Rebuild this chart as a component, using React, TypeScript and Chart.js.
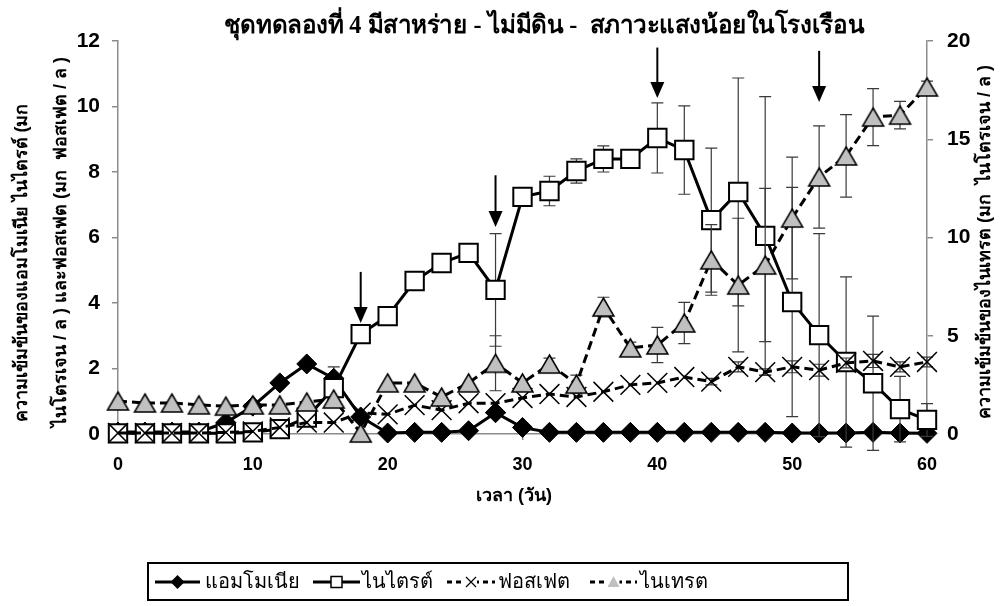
import React, { useEffect, useRef } from "react";
import { Chart, registerables } from "chart.js";

Chart.register(...registerables);

// ---- DATA ----
const days = [0, 2, 4, 6, 8, 10, 12, 14, 16, 18, 20, 22, 24, 26, 28, 30, 32, 34, 36, 38, 40, 42, 44, 46, 48, 50, 52, 54, 56, 58, 60];

const ammonia = [0.06, 0.06, 0.06, 0.06, 0.35, 0.85, 1.56, 2.14, 1.7, 0.52, 0.03, 0.05, 0.05, 0.1, 0.65, 0.2, 0.05, 0.05, 0.05, 0.05, 0.05, 0.05, 0.05, 0.05, 0.05, 0.03, 0.03, 0.03, 0.05, 0.03, 0.02];
const ammoniaErr = [0, 0, 0, 0, 0, 0, 0, 0, 0.35, 0, 0, 0, 0, 0, 0.1, 0, 0, 0, 0, 0, 0, 0, 0, 0, 0, 0, 0, 0, 0, 0, 0];

const nitrite = [0.02, 0.02, 0.02, 0.02, 0.02, 0.05, 0.15, 0.5, 1.4, 3.05, 3.6, 4.67, 5.22, 5.53, 4.4, 7.24, 7.42, 8.03, 8.4, 8.4, 9.04, 8.67, 6.53, 7.39, 6.05, 4.03, 3.02, 2.2, 1.55, 0.76, 0.43];
const nitriteErr = [0, 0, 0, 0, 0, 0, 0, 0, 0, 0, 0, 0, 0, 0, 1.72, 0, 0.45, 0.37, 0.4, 0, 1.07, 1.35, 2.2, 3.48, 4.25, 3.5, 3.1, 2.6, 2.05, 1.0, 0.5];

const phosphate = [0.03, 0.03, 0.03, 0.03, 0.05, 0.08, 0.2, 0.35, 0.35, 0.65, 0.6, 0.88, 0.73, 0.94, 0.94, 1.1, 1.22, 1.13, 1.29, 1.5, 1.56, 1.74, 1.6, 2.05, 1.89, 2.05, 1.95, 2.17, 2.23, 2.05, 2.2];
const phosphateErr = [0, 0, 0, 0, 0, 0, 0, 0, 0, 0, 0, 0, 0, 0, 0, 0, 0, 0, 0, 0, 0, 0, 0.1, 0.15, 0.1, 0.18, 0.18, 0.15, 0.2, 0.15, 0.15];

const nitrate = [1.68, 1.58, 1.58, 1.48, 1.42, 1.48, 1.48, 1.63, 1.78, 0.05, 2.6, 2.6, 1.88, 2.6, 3.6, 2.6, 3.56, 2.54, 6.46, 4.38, 4.53, 5.65, 8.86, 7.58, 8.6, 10.99, 13.08, 14.15, 16.13, 16.23, 17.66];
const nitrateErr = [0, 0, 0, 0, 0, 0, 0, 0, 0, 0, 0, 0, 0, 0, 1.4, 0, 0.3, 0.46, 0.5, 0.3, 0.9, 1.05, 1.8, 3.4, 3.9, 3.1, 2.6, 2.1, 1.45, 0.7, 0.3];

// arrows marking events (day, top and tip in left-axis units)
const arrowDays = [18, 28, 40, 52];
const arrowTops = [4.95, 7.9, 11.8, 11.7];
const arrowTips = [3.39, 6.32, 10.26, 10.14];

const seriesNames = ["แอมโมเนีย", "ไนไตรต์", "ฟอสเฟต", "ไนเทรต"];
const titleText = "ชุดทดลองที่ 4 มีสาหร่าย - ไม่มีดิน -  สภาวะแสงน้อยในโรงเรือน";
const xTitle = "เวลา (วัน)";
const yTitleLines = ["ความเข้มข้นของแอมโมเนีย ไนไตรต์ (มก", "ไนโตรเจน / ล ) และฟอสเฟต (มก  ฟอสเฟต / ล )"];
const y2Title = "ความเข้มข้นของไนเทรต (มก  ไนโตรเจน / ล )";

const SANS = "'Liberation Sans', Arial, 'Noto Sans', sans-serif";
const SERIF = "'Liberation Serif', 'DejaVu Serif', serif";
const GRAY_FILL = "#c0c0c0";
const AXIS_GRAY = "#8c8c8c";

function makeTriangle(w: number, h: number, lw: number): HTMLCanvasElement {
  const c = document.createElement("canvas");
  c.width = w + 4;
  c.height = h + 4;
  const g = c.getContext("2d")!;
  g.beginPath();
  g.moveTo(c.width / 2, 2);
  g.lineTo(c.width - 2, h + 2);
  g.lineTo(2, h + 2);
  g.closePath();
  g.fillStyle = GRAY_FILL;
  g.fill();
  g.lineWidth = lw;
  g.strokeStyle = "#000";
  g.lineJoin = "miter";
  g.stroke();
  return c;
}

const errorSets = [ammoniaErr, nitriteErr, phosphateErr, nitrateErr];
const valueSets = [ammonia, nitrite, phosphate, nitrate];
const axisSets = ["y", "y", "y", "y2"];

const errorBarPlugin = {
  id: "errorBars",
  beforeDatasetDraw(chart: any, args: any) {
    const i = args.index;
    const errs = errorSets[i];
    const vals = valueSets[i];
    if (!errs) return;
    const ctx = chart.ctx;
    const xs = chart.scales.x;
    const ys = chart.scales[axisSets[i]];
    ctx.save();
    ctx.strokeStyle = "#3a3a3a";
    ctx.lineWidth = 1.2;
    for (let k = 0; k < days.length; k++) {
      const e = errs[k];
      if (!e) continue;
      const x = xs.getPixelForValue(days[k]);
      const yt = ys.getPixelForValue(vals[k] + e);
      const yb = ys.getPixelForValue(vals[k] - e);
      ctx.beginPath();
      ctx.moveTo(x, yt);
      ctx.lineTo(x, yb);
      ctx.moveTo(x - 6, yt);
      ctx.lineTo(x + 6, yt);
      ctx.moveTo(x - 6, yb);
      ctx.lineTo(x + 6, yb);
      ctx.stroke();
    }
    ctx.restore();
  },
};

const decorPlugin = {
  id: "decor",
  afterDraw(chart: any) {
    const ctx = chart.ctx as CanvasRenderingContext2D;
    const xs = chart.scales.x;
    const ys = chart.scales.y;
    ctx.save();
    // arrows
    ctx.fillStyle = "#000";
    ctx.strokeStyle = "#000";
    for (let i = 0; i < arrowDays.length; i++) {
      const x = xs.getPixelForValue(arrowDays[i]);
      const yTop = ys.getPixelForValue(arrowTops[i]);
      const yTip = ys.getPixelForValue(arrowTips[i]);
      ctx.lineWidth = 2;
      ctx.beginPath();
      ctx.moveTo(x, yTop);
      ctx.lineTo(x, yTip - 12);
      ctx.stroke();
      ctx.beginPath();
      ctx.moveTo(x - 7, yTip - 16);
      ctx.lineTo(x + 7, yTip - 16);
      ctx.lineTo(x, yTip);
      ctx.closePath();
      ctx.fill();
    }

    // title
    ctx.fillStyle = "#000";
    ctx.textAlign = "center";
    ctx.textBaseline = "middle";
    ctx.font = `bold 25px ${SERIF}`;
    ctx.fillText(titleText, 544, 27, 640);

    // x title
    ctx.font = `bold 18px ${SANS}`;
    ctx.fillText(xTitle, 514, 496);

    // left titles
    ctx.font = `bold 18px ${SANS}`;
    ctx.save();
    ctx.translate(22, 263);
    ctx.rotate(-Math.PI / 2);
    ctx.fillText(yTitleLines[0], 0, 0, 360);
    ctx.restore();
    ctx.save();
    ctx.translate(61, 242);
    ctx.rotate(-Math.PI / 2);
    ctx.fillText(yTitleLines[1], 0, 0, 400);
    ctx.restore();
    // right title
    ctx.save();
    ctx.translate(985, 242);
    ctx.rotate(-Math.PI / 2);
    ctx.fillText(y2Title, 0, 0, 396);
    ctx.restore();

    // legend
    ctx.lineWidth = 2;
    ctx.strokeStyle = "#000";
    ctx.strokeRect(148, 563, 700, 37);
    const ly = 582;
    const items = [
      { x0: 155, x1: 200, dash: [] as number[], label: 205 },
      { x0: 313, x1: 360, dash: [] as number[], label: 362 },
      { x0: 447, x1: 495, dash: [5, 4], label: 498 },
      { x0: 590, x1: 637, dash: [5, 4], label: 640 },
    ];
    items.forEach((it, i) => {
      ctx.save();
      ctx.lineWidth = 3;
      ctx.setLineDash(it.dash);
      ctx.beginPath();
      ctx.moveTo(it.x0, ly);
      ctx.lineTo(it.x1, ly);
      ctx.stroke();
      ctx.restore();
      const cx = (it.x0 + it.x1) / 2;
      if (i === 0) {
        ctx.beginPath();
        ctx.moveTo(cx, ly - 7);
        ctx.lineTo(cx + 7, ly);
        ctx.lineTo(cx, ly + 7);
        ctx.lineTo(cx - 7, ly);
        ctx.closePath();
        ctx.fill();
      } else if (i === 1) {
        ctx.fillStyle = "#fff";
        ctx.fillRect(cx - 5.5, ly - 5.5, 11, 11);
        ctx.lineWidth = 1.5;
        ctx.strokeRect(cx - 5.5, ly - 5.5, 11, 11);
        ctx.fillStyle = "#000";
      } else if (i === 2) {
        ctx.fillStyle = "#fff";
        ctx.fillRect(cx - 6, ly - 6, 12, 12);
        ctx.fillStyle = "#000";
        ctx.lineWidth = 1.2;
        ctx.beginPath();
        ctx.moveTo(cx - 5, ly - 5);
        ctx.lineTo(cx + 5, ly + 5);
        ctx.moveTo(cx + 5, ly - 5);
        ctx.lineTo(cx - 5, ly + 5);
        ctx.stroke();
      } else {
        ctx.fillStyle = "#fff";
        ctx.fillRect(cx - 6, ly - 7, 12, 14);
        ctx.beginPath();
        ctx.moveTo(cx, ly - 6);
        ctx.lineTo(cx + 6, ly + 5);
        ctx.lineTo(cx - 6, ly + 5);
        ctx.closePath();
        ctx.fillStyle = GRAY_FILL;
        ctx.fill();
        ctx.fillStyle = "#000";
      }
      ctx.textAlign = "left";
      ctx.font = `20px ${SANS}`;
      ctx.fillText(seriesNames[i], it.label, ly);
    });
    ctx.restore();
  },
};

export default function App() {
  const ref = useRef<HTMLCanvasElement | null>(null);
  useEffect(() => {
    if (!ref.current) return;
    const tri = makeTriangle(21, 18, 1.5);
    const pts = (arr: number[]) => days.map((d, i) => ({ x: d, y: arr[i] }));
    const chart = new Chart(ref.current, {
      type: "line",
      data: {
        datasets: [
          {
            label: seriesNames[0],
            data: pts(ammonia),
            yAxisID: "y",
            borderColor: "#000",
            borderWidth: 3,
            pointStyle: "rectRot",
            pointRadius: 10,
            pointBackgroundColor: "#000",
            pointBorderColor: "#000",
            pointBorderWidth: 1,
            clip: false,
            order: 3,
          },
          {
            label: seriesNames[1],
            data: pts(nitrite),
            yAxisID: "y",
            borderColor: "#000",
            borderWidth: 3,
            pointStyle: "rect",
            pointRadius: 13,
            pointBackgroundColor: "#fff",
            pointBorderColor: "#000",
            pointBorderWidth: 2,
            clip: false,
            order: 2,
          },
          {
            label: seriesNames[2],
            data: pts(phosphate),
            yAxisID: "y",
            borderColor: "#000",
            borderWidth: 3,
            borderDash: [9, 5],
            pointStyle: "crossRot",
            pointRadius: 14,
            pointBorderColor: "#000",
            pointBorderWidth: 1.5,
            clip: false,
            order: 1,
          },
          {
            label: seriesNames[3],
            data: pts(nitrate),
            yAxisID: "y2",
            borderColor: "#000",
            borderWidth: 3,
            borderDash: [9, 5],
            pointStyle: tri as any,
            pointRadius: 11,
            clip: false,
            order: 0,
          },
        ],
      },
      options: {
        responsive: false,
        animation: false,
        events: [],
        layout: { padding: { top: 41, left: 0, right: 0, bottom: 0 } },
        plugins: { legend: { display: false }, tooltip: { enabled: false }, title: { display: false } },
        scales: {
          x: {
            type: "linear",
            min: 0,
            max: 60,
            ticks: { stepSize: 10, color: "#000", padding: 14, font: { size: 18, weight: "bold", family: SANS } },
            grid: { drawOnChartArea: false, tickLength: 6, color: AXIS_GRAY, lineWidth: 1.5 },
            border: { color: AXIS_GRAY, width: 1.5 },
            afterFit: (s: any) => {
              s.height = 172;
            },
          },
          y: {
            type: "linear",
            position: "left",
            min: 0,
            max: 12,
            ticks: { stepSize: 2, color: "#000", padding: 12, font: { size: 21, weight: "bold", family: SANS } },
            grid: { drawOnChartArea: false, tickLength: 6, color: AXIS_GRAY, lineWidth: 1.5 },
            border: { color: AXIS_GRAY, width: 1.5 },
            afterFit: (s: any) => {
              s.width = 118;
            },
          },
          y2: {
            type: "linear",
            position: "right",
            min: 0,
            max: 20,
            ticks: { stepSize: 5, color: "#000", padding: 14, font: { size: 21, weight: "bold", family: SANS } },
            grid: { drawOnChartArea: false, tickLength: 6, color: AXIS_GRAY, lineWidth: 1.5 },
            border: { color: AXIS_GRAY, width: 1.5 },
            afterFit: (s: any) => {
              s.width = 73;
            },
          },
        },
        elements: { line: { tension: 0 } },
      } as any,
      plugins: [errorBarPlugin, decorPlugin],
    });
    return () => chart.destroy();
  }, []);
  return (
    <div style={{ position: "absolute", left: 0, top: 0, width: 1000, height: 606, background: "#fff" }}>
      <canvas ref={ref} width={1000} height={606} style={{ display: "block" }} />
    </div>
  );
}
